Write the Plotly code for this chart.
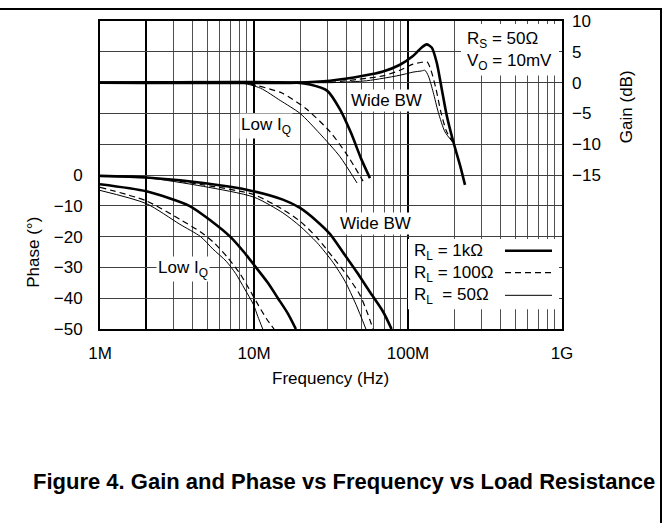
import plotly.graph_objects as go

MHZ = 1e6

# ---------------- data (frequency in MHz) ----------------
# Gain (dB) – right axis
gain_lowiq_1k_f = [1, 19, 23.1, 29.8, 36.1, 42.7, 49.5, 56.6]
gain_lowiq_1k = [0, 0, -0.3, -1.3, -4.3, -8.2, -12.3, -15.5]
gain_lowiq_100_f = [1, 8.0, 10.3, 15.2, 21.7, 31.2, 40.4, 51.1]
gain_lowiq_100 = [0, 0, -0.45, -1.7, -4.2, -8.0, -11.8, -16.0]
gain_lowiq_50_f = [1, 8.0, 11, 14.8, 19.9, 26.8, 36.1, 46.7]
gain_lowiq_50 = [0, 0, -0.9, -2.9, -5.0, -8.3, -12.0, -16.3]

gain_wide_1k_f = [1, 19, 31.2, 51.1, 68.9, 88.7, 107.7, 122.7, 132.2, 142.5, 153.5, 165.5, 178.3, 196.9, 217.6, 234.5]
gain_wide_1k = [0, 0, 0.3, 1.1, 1.8, 2.9, 4.3, 5.7, 6.2, 5.7, 3.3, -1.0, -5.3, -9.6, -13.4, -16.6]
gain_wide_100_f = [1, 19, 32.6, 53.9, 68.9, 88.7, 107.7, 122.7, 132.8, 141.0, 151.9, 163.6, 177.8, 194.4]
gain_wide_100 = [0, 0, 0.1, 0.7, 1.1, 2.0, 3.0, 3.3, 3.4, 2.0, -1.0, -4.8, -7.9, -9.6]
gain_wide_50_f = [1, 19, 32.6, 53.9, 68.9, 88.7, 107.7, 122.7, 128.8, 135.5, 145.9, 157.2, 173.8, 194.4]
gain_wide_50 = [0, 0, 0, 0.3, 0.7, 1.2, 1.7, 1.9, 2.0, 1.1, -1.6, -4.8, -8.0, -9.6]

# Phase (deg) – left axis
phase_lowiq_1k_f = [1, 2, 3.8, 5.3, 7.0, 8.6, 10.3, 12.3, 14.3, 16.6, 18.7]
phase_lowiq_1k = [-3, -5.3, -10, -15, -20, -25, -30, -35, -40, -45, -50]
phase_lowiq_100_f = [1, 2, 3.3, 4.5, 5.5, 6.8, 8.1, 9.3, 10.6, 12.0, 13.5]
phase_lowiq_100 = [-4, -8.4, -14.4, -18.5, -22, -27, -32, -37, -42, -46.5, -50]
phase_lowiq_50_f = [1, 2, 3.3, 4.5, 5.4, 6.6, 7.6, 8.7, 9.9, 10.6, 11.4]
phase_lowiq_50 = [-5, -9.3, -16, -20, -24, -28, -32, -37, -42, -46, -50]

phase_wide_1k_f = [1, 2, 4.7, 9.4, 15.4, 19.9, 25.6, 31.2, 37.8, 46.6, 56.6, 68.9, 78.2]
phase_wide_1k = [-0.3, -0.8, -2.6, -5.0, -8.0, -10.7, -15, -19.2, -25.1, -31.6, -38, -44.4, -50]
phase_wide_100_f = [1, 2, 4.7, 10, 15.4, 19.9, 25.6, 32.6, 40.2, 48.8, 54.2, 59.3]
phase_wide_100 = [-0.3, -0.7, -3.2, -6.4, -11.2, -15, -20.3, -26.8, -32.6, -39, -44.5, -50]
phase_wide_50_f = [1, 2, 4.7, 10, 15.4, 19.9, 25.6, 32.6, 39, 45.9, 53.3]
phase_wide_50 = [-0.4, -0.9, -3.7, -7.2, -12.3, -16.6, -21.9, -28.4, -34.5, -42, -50]

# tick labels
x_major_vals = [1e6, 2e6, 1e7, 1e8, 1e9]
x_major_text = ["1M", "", "10M", "100M", "1G"]
phase_ticks = [-50, -40, -30, -20, -10, 0, 10, 20, 30, 40, 50]
gain_ticks = [10, 5, 0, -5, -10, -15]

STYLES = {
    "1k": dict(color="black", width=2.6),
    "100": dict(color="black", width=1.2, dash="6px,4px"),
    "50": dict(color="black", width=1.0),
}

series = [
    (gain_lowiq_1k_f, gain_lowiq_1k, "1k", "y2"),
    (gain_lowiq_100_f, gain_lowiq_100, "100", "y2"),
    (gain_lowiq_50_f, gain_lowiq_50, "50", "y2"),
    (gain_wide_1k_f, gain_wide_1k, "1k", "y2"),
    (gain_wide_100_f, gain_wide_100, "100", "y2"),
    (gain_wide_50_f, gain_wide_50, "50", "y2"),
    (phase_lowiq_1k_f, phase_lowiq_1k, "1k", "y"),
    (phase_lowiq_100_f, phase_lowiq_100, "100", "y"),
    (phase_lowiq_50_f, phase_lowiq_50, "50", "y"),
    (phase_wide_1k_f, phase_wide_1k, "1k", "y"),
    (phase_wide_100_f, phase_wide_100, "100", "y"),
    (phase_wide_50_f, phase_wide_50, "50", "y"),
]

fig = go.Figure()
for f, v, key, ax in series:
    fig.add_trace(go.Scatter(
        x=[q * MHZ for q in f], y=v, yaxis=ax, mode="lines",
        line=dict(shape="spline", smoothing=0.7, **STYLES[key]),
        showlegend=False, hoverinfo="skip",
    ))

FONT = "Liberation Sans, Arial, sans-serif"
minor_vals = [m * 10 ** e for e in (6, 7, 8) for m in range(2, 10)]

fig.update_layout(
    width=665, height=523,
    margin=dict(l=100, r=103, t=18, b=194),
    paper_bgcolor="white", plot_bgcolor="white",
    font=dict(family=FONT, size=17, color="black"),
    xaxis=dict(
        type="log", range=[6, 9],
        tickmode="array", tickvals=x_major_vals, ticktext=x_major_text,
        showgrid=True, gridcolor="black", gridwidth=2,
        minor=dict(tickmode="array", tickvals=minor_vals, showgrid=True,
                   gridcolor="#505050", gridwidth=1, ticks=""),
        ticks="", ticklabelstandoff=8, tickfont=dict(size=17),
        showline=True, linecolor="black", linewidth=2, mirror=True,
        zeroline=False,
    ),
    yaxis=dict(
        range=[-50, 50], tickmode="array", tickvals=phase_ticks,
        ticktext=[("\u2212" + str(-t)) if t < 0 else ("0" if t == 0 else "") for t in phase_ticks],
        showgrid=True, gridcolor="#404040", gridwidth=1,
        ticks="", ticklabelstandoff=12, tickfont=dict(size=17),
        showline=True, linecolor="black", linewidth=2, mirror=True,
        zeroline=False,
    ),
    yaxis2=dict(
        range=[-40, 10], overlaying="y", side="right",
        tickmode="array", tickvals=gain_ticks,
        ticktext=[("\u2212" + str(-t)) if t < 0 else str(t) for t in gain_ticks],
        showgrid=False, zeroline=False, ticks="", ticklabelstandoff=9,
        tickfont=dict(size=17),
    ),
)

def px(x):
    return (x - 100) / 462.0

def py(y):
    return (329 - y) / 311.0

shapes = [
    # page frame: only its top and right edges fall inside the figure
    dict(type="rect", xref="paper", yref="paper", x0=px(-20), x1=px(661), y0=py(560), y1=py(6),
         fillcolor="rgba(0,0,0,0)", line=dict(color="black", width=2), layer="above"),
    # white boxes for R_S/V_O note and the legend
    dict(type="rect", xref="paper", yref="paper", x0=px(461), x1=px(559), y0=py(73), y1=py(21),
         fillcolor="white", line=dict(width=0), layer="above"),
    dict(type="rect", xref="paper", yref="paper", x0=px(408), x1=px(559), y0=py(309), y1=py(238),
         fillcolor="white", line=dict(width=0), layer="above"),
]
legend_rows = [("R<sub>L</sub> = 1k\u03a9", "1k", 250), ("R<sub>L</sub> = 100\u03a9", "100", 272),
               ("R<sub>L</sub>  = 50\u03a9", "50", 295)]
for txt, key, yy in legend_rows:
    st = dict(STYLES[key])
    shapes.append(dict(type="line", xref="paper", yref="paper", x0=px(505), x1=px(552),
                       y0=py(yy), y1=py(yy), line=st, layer="above"))
fig.update_layout(shapes=shapes)

ann = []
def A(text, x, y, xanchor="center", bg=None, size=17, **kw):
    d = dict(text=text, x=px(x), y=py(y), xref="paper", yref="paper", showarrow=False,
             xanchor=xanchor, yanchor="middle", font=dict(size=size, family=FONT, color="black"))
    if bg:
        d.update(bgcolor=bg, borderpad=1)
    d.update(kw)
    ann.append(d)

A("R<sub>S</sub> = 50\u03a9", 465, 37, xanchor="left")
A("V<sub>O</sub> = 10mV", 465, 59, xanchor="left")
A("Wide BW", 386, 98, bg="white")
A("Low I<sub>Q</sub>", 266, 124, bg="white")
A("Wide BW", 375, 222, bg="white")
A("Low I<sub>Q</sub>", 183, 268, bg="white")
for txt, key, yy in legend_rows:
    A(txt, 412, yy + 1, xanchor="left")
A("Phase (\u00b0)", 34, 252, textangle=-90, size=17)
A("Gain (dB)", 626, 105, textangle=-90, size=17)
A("Frequency (Hz)", 330, 379, size=17)
A("<b>Figure 4. Gain and Phase vs Frequency vs Load Resistance</b>", 657, 483, xanchor="right", size=22)
fig.update_layout(annotations=ann)

fig.write_html("out.html", config={"displayModeBar": False},
               post_script="document.body.style.margin='0px';")
